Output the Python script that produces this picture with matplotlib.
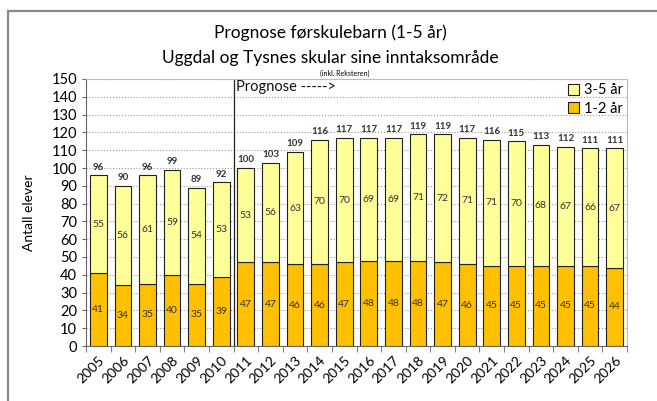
import numpy as np
import matplotlib.pyplot as plt
from matplotlib.patches import Rectangle, Patch

plt.rcParams['font.family'] = ['Lato', 'DejaVu Sans']

years = [str(y) for y in range(2005, 2027)]
age_1_2 = [41, 34, 35, 40, 35, 39, 47, 47, 46, 46, 47, 48, 48, 48, 47, 46, 45, 45, 45, 45, 45, 44]
age_3_5 = [55, 56, 61, 59, 54, 53, 53, 56, 63, 70, 70, 69, 69, 71, 72, 71, 71, 70, 68, 67, 66, 67]
totals = [a + b for a, b in zip(age_1_2, age_3_5)]

orange = '#FFC000'
yellow = '#FFFF99'

fig = plt.figure(figsize=(6.57, 4.01), dpi=100)
fig.patches.append(Rectangle((8 / 657, -0.1), 1.1, 1 - 11 / 401 + 0.1, transform=fig.transFigure,
                             fill=False, edgecolor='#888888', linewidth=1.6))

ax = fig.add_axes([86 / 657, 1 - 346 / 401, 541 / 657, 267 / 401])
x = np.arange(len(years))
w = 0.68
ax.bar(x, age_1_2, w, color=orange, edgecolor='#222222', linewidth=0.8, zorder=3)
ax.bar(x, age_3_5, w, bottom=age_1_2, color=yellow, edgecolor='#222222', linewidth=0.8, zorder=3)

for i in range(len(years)):
    ax.text(x[i], age_1_2[i] / 2, str(age_1_2[i]), ha='center', va='center', fontsize=7.5,
            color='#333333', zorder=4)
    ax.text(x[i], age_1_2[i] + age_3_5[i] / 2, str(age_3_5[i]), ha='center', va='center',
            fontsize=7.5, color='#333333', zorder=4)
    ax.text(x[i], totals[i] + 2, str(totals[i]), ha='center', va='bottom', fontsize=7,
            fontweight='bold', color='#333333', zorder=4)

ax.set_xlim(-0.5, len(years) - 0.5)
ax.set_ylim(0, 150)
ax.set_yticks(range(0, 151, 10))
ax.tick_params(axis='y', labelsize=10.5, length=3, color='#666666')
ax.set_xticks(x)
ax.set_xticklabels(years, rotation=45, ha='right', rotation_mode='anchor', fontsize=10)
ax.tick_params(axis='x', length=0, pad=6)
ax.set_xticks(np.arange(-0.5, len(years)), minor=True)
ax.tick_params(axis='x', which='minor', length=4, color='#666666')
ax.grid(axis='y', linestyle=':', color='#999999', linewidth=0.8, zorder=0)
for s in ['top', 'right']:
    ax.spines[s].set_color('#bbbbbb')
for s in ['left', 'bottom']:
    ax.spines[s].set_color('#666666')

# prognose starts after 2010
ax.axvline(5.5, color='#222222', linewidth=0.9, zorder=2)
ax.text(5.6, 145.5, 'Prognose ----->', fontsize=10.5, va='center', ha='left', color='#111111')

ax.set_ylabel('Antall elever', fontsize=10)
ax.yaxis.set_label_coords(-0.095, 0.5)

handles = [Patch(facecolor=yellow, edgecolor='#222222', linewidth=0.8),
           Patch(facecolor=orange, edgecolor='#222222', linewidth=0.8)]
ax.legend(handles, ['3-5 år', '1-2 år'], loc='upper right', frameon=False, fontsize=10.5,
          handlelength=0.8, handleheight=0.8, handletextpad=0.3, labelspacing=0.3,
          borderaxespad=0.1, borderpad=0.2)

fig.text(330 / 657, 1 - 33 / 401, 'Prognose førskulebarn (1-5 år)', ha='center', va='center', fontsize=12.5)
fig.text(330 / 657, 1 - 58 / 401, 'Uggdal og Tysnes skular sine inntaksområde', ha='center', va='center',
         fontsize=12.5)
fig.text(345 / 657, 1 - 73 / 401, '(inkl. Reksteren)', ha='center', va='center', fontsize=5)

fig.savefig('out.png', dpi=100)
